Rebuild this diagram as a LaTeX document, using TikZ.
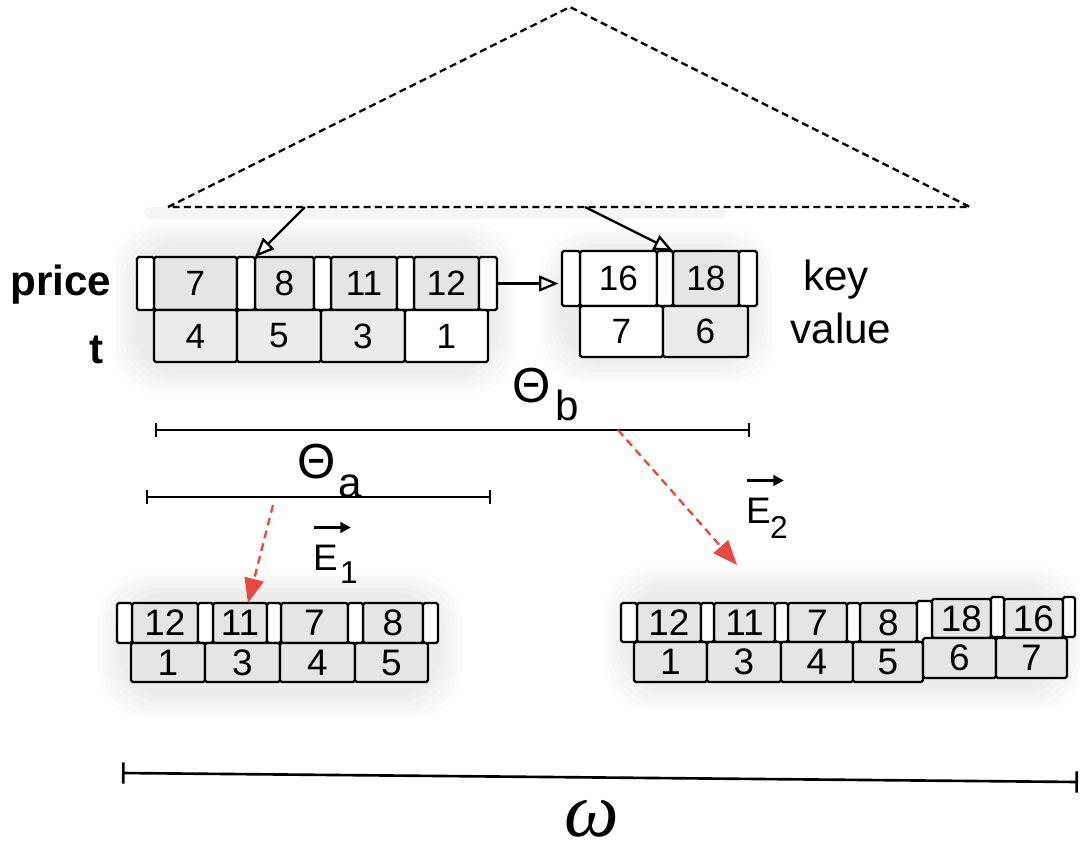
\documentclass[tikz,border=0pt]{standalone}
\usepackage{fontspec}
\setmainfont{Liberation Sans}
\newfontfamily\omegafont{Liberation Serif}
\usetikzlibrary{arrows.meta}

\definecolor{redarr}{HTML}{E8483F}

% one cell of a leaf: style, name, left, top, right, bottom, text
\newcommand\cellbox[7]{%
  \node[#1, minimum width={(#5-#3)*0.02cm}, minimum height={(#6-#4)*0.02cm}]
    (#2) at ({(#3+#5)/2},{(#4+#6)/2}) {#7};}
% soft grey halo behind a leaf
\newcommand\glowbox[4]{%
  \foreach \g in {0,4,...,20} \fill[glow] ({#1+\g},{#2+\g}) rectangle ({#3-\g},{#4-\g});}

\begin{document}
\begin{tikzpicture}[x=0.02cm, y=-0.02cm, line width=1.3pt,
                keycell/.style={draw, fill=black!10, rounded corners=1pt, inner sep=0pt, outer sep=0pt,
                                font=\fontsize{20}{20}\selectfont},
                valcell/.style={keycell, fill=black!8},
                whitecell/.style={keycell, fill=white},
                lowcell/.style={keycell, font=\fontsize{21}{21}\selectfont},
                ptr/.style={draw, fill=white, rounded corners=1pt, inner sep=0pt, outer sep=0pt},
                glow/.style={fill=black, opacity=0.011, rounded corners=26pt},
                tag/.style={inner sep=0pt, font=\fontsize{24}{24}\selectfont},
                ptrarrow/.style={draw, -{Triangle[fill=white, length=11pt, width=9pt]}},
                redarrow/.style={draw=redarr, line width=1.3pt, dash pattern=on 4.5pt off 3pt,
                                 -{Triangle[length=14pt, width=11pt, fill=redarr]}},
                dim/.style={{Bar[width=8pt]}-{Bar[width=8pt]}, line width=1.4pt},
                vecarrow/.style={-{Triangle[length=6pt, width=6pt]}, line width=1.6pt}
            ]
\useasboundingbox (0,0) rectangle (1080,853);

% halos
\glowbox{112}{222}{516}{394}
\glowbox{540}{228}{776}{384}
\glowbox{98}{572}{462}{718}
\glowbox{604}{566}{1084}{710}
\draw[black!4, line width=7pt, line cap=round] (150,213) -- (720,213);

% tree
\coordinate (apex) at (570,7);
\coordinate (tl) at (168,207);
\coordinate (tr) at (970,207);
\draw[line width=1.3pt, dash pattern=on 4pt off 2.4pt] (tl) -- (apex) -- (tr) -- cycle;

% upper leaves
\foreach \a/\b/\t [count=\i] in {154/237/7,255/314/8,331/397/11,414/479/12}
  {\cellbox{keycell}{l1k\i}{\a}{257}{\b}{310}{\t}}
\foreach \a/\b [count=\i] in {137/154,237/255,314/331,397/414,479/497}
  {\cellbox{ptr}{l1p\i}{\a}{257}{\b}{310}{}}
\foreach \a/\b/\t/\s [count=\i] in {154/237/4/valcell,237/321/5/valcell,321/405/3/valcell,405/488/1/whitecell}
  {\cellbox{\s}{l1v\i}{\a}{310}{\b}{362}{\t}}

\foreach \a/\b/\t/\s [count=\i] in {580/657/16/whitecell,673/739/18/keycell}
  {\cellbox{\s}{l2k\i}{\a}{251}{\b}{306}{\t}}
\foreach \a/\b [count=\i] in {562/580,657/673,739/757}
  {\cellbox{ptr}{l2p\i}{\a}{251}{\b}{306}{}}
\foreach \a/\b/\t/\s [count=\i] in {580/663/7/whitecell,663/748/6/valcell}
  {\cellbox{\s}{l2v\i}{\a}{306}{\b}{357}{\t}}

\node[tag, font=\bfseries\fontsize{24}{24}\selectfont, anchor=base] (price) at (61,295) {price};
\node[tag, font=\bfseries\fontsize{24}{24}\selectfont, anchor=base] (tlab) at (97,363) {t};
\node[tag, anchor=base] (key) at (836,290) {key};
\node[tag, anchor=base] (value) at (841,343) {value};

\coordinate (tb1) at (305,207);
\coordinate (tb2) at (585,207);
\path[ptrarrow] (tb1) -- (l1p2.north east);
\path[ptrarrow] (tb2) -- (l2p2.north east);
\path[ptrarrow, shorten >=2pt] (l1p5.east) -- (l1p5.east -| l2p1.west);

% ranges
\coordinate (thb1) at (155,430);
\coordinate (thb2) at (750,430);
\coordinate (tha1) at (146,497);
\coordinate (tha2) at (491,497);
\draw[dim] (thb1) -- (thb2);
\draw[dim] (tha1) -- (tha2);
\node[inner sep=0pt, anchor=base west, font=\fontsize{28}{28}\selectfont] (thb) at (511,402) {Θ};
\node[tag, anchor=base west] (thbs) at (554,420) {b};
\node[inner sep=0pt, anchor=base west, font=\fontsize{28}{28}\selectfont] (tha) at (296,478) {Θ};
\node[tag, anchor=base west] (thas) at (337,497) {a};

% lower leaves
\foreach \a/\b/\t [count=\i] in {132/198/12,213/267/11,281/348/7,363/423/8}
  {\cellbox{lowcell}{bk\i}{\a}{603}{\b}{643}{\t}}
\foreach \a/\b [count=\i] in {117/132,198/213,267/281,348/363,423/438}
  {\cellbox{ptr}{bp\i}{\a}{603}{\b}{643}{}}
\foreach \a/\b/\t [count=\i] in {131/205/1,205/280/3,280/355/4,355/428/5}
  {\cellbox{lowcell}{bv\i}{\a}{643}{\b}{682}{\t}}

\foreach \a/\b/\y/\z/\t [count=\i] in {637/701/603/642/12,714/775/603/642/11,788/847/603/642/7,
                                      860/917/603/642/8,932/991/599/638/18,1004/1063/599/638/16}
  {\cellbox{lowcell}{ck\i}{\a}{\y}{\b}{\z}{\t}}
\foreach \a/\b/\y/\z [count=\i] in {621/637/603/642,701/714/603/642,775/788/603/642,847/860/603/642,
                                   917/932/601/642,991/1004/597/637,1063/1075/597/637}
  {\cellbox{ptr}{cp\i}{\a}{\y}{\b}{\z}{}}
\foreach \a/\b/\y/\z/\t [count=\i] in {634/707/642/682/1,707/781/642/682/3,781/853/642/682/4,
                                      853/923/642/682/5,923/996/638/678/6,996/1067/638/678/7}
  {\cellbox{lowcell}{cv\i}{\a}{\y}{\b}{\z}{\t}}

% extractions
\coordinate (e1from) at (273,505);
\coordinate (e2from) at (618,430);
\coordinate (e2to) at (737,565);
\draw[redarrow] (e1from) -- ([shift={(8,0)}]bk2.north);
\draw[redarrow] (e2from) -- (e2to);

\node[inner sep=0pt, anchor=base west, font=\fontsize{21}{21}\selectfont] (e1) at (312,570) {E};
\node[inner sep=0pt, anchor=base west, font=\fontsize{18}{18}\selectfont] (e1s) at (339,583) {1};
\draw[vecarrow] ([shift={(2,-16)}]e1.north west) -- ([shift={(12,-16)}]e1.north east);
\node[inner sep=0pt, anchor=base west, font=\fontsize{21}{21}\selectfont] (e2) at (745,523) {E};
\node[inner sep=0pt, anchor=base west, font=\fontsize{18}{18}\selectfont] (e2s) at (769,538) {2};
\draw[vecarrow] ([shift={(2,-16)}]e2.north west) -- ([shift={(12,-16)}]e2.north east);

% window
\coordinate (om1) at (122,773);
\coordinate (om2) at (1078,782);
\draw[{Bar[width=12pt]}-{Bar[width=12pt]}, line width=1.5pt] (om1) -- (om2);
\node[inner sep=0pt, anchor=base, font=\omegafont\itshape\fontsize{44}{44}\selectfont] (om) at (592,836) {ω};
\end{tikzpicture}
\end{document}
